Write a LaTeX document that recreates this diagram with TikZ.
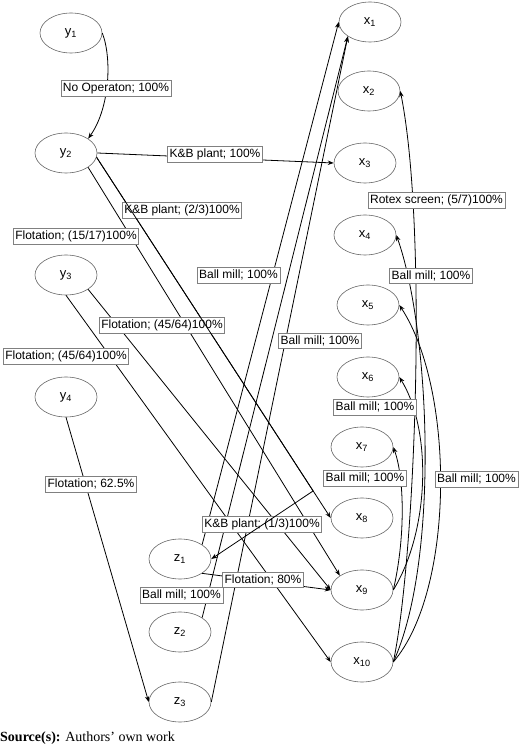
\documentclass[tikz,border=0pt]{standalone}
\usepackage{fontspec}
\setmainfont{Liberation Serif}
\setsansfont{Liberation Sans}
\usetikzlibrary{shapes.geometric,arrows.meta,calc}
\definecolor{midgray}{HTML}{666666}
\definecolor{boxgray}{HTML}{808080}
\tikzset{
  stream/.style={ellipse, draw=midgray, line width=0.6pt, minimum width=62pt, minimum height=40pt, inner sep=0pt, font=\sffamily\fontsize{13}{15}\selectfont},
  flow/.style={draw=black, line width=0.8pt, -{Stealth[length=6pt,width=4.5pt]}},
  flowlabel/.style={draw=boxgray, fill=white, line width=0.6pt, inner xsep=2pt, inner ysep=2pt, text height=9pt, text depth=2.5pt, font=\sffamily\fontsize{12}{14}\selectfont}
}
\begin{document}
\begin{tikzpicture}[x=1pt,y=1pt]
\useasboundingbox (0,0) rectangle (520,748);
% feed streams
\node[stream] (y1) at (71,715) {y\textsubscript{1}};
\node[stream] (y2) at (66,595) {y\textsubscript{2}};
\node[stream] (y3) at (66,473) {y\textsubscript{3}};
\node[stream] (y4) at (66,351) {y\textsubscript{4}};
% intermediate streams
\node[stream] (z1) at (180,189) {z\textsubscript{1}};
\node[stream] (z2) at (180,116) {z\textsubscript{2}};
\node[stream] (z3) at (180,46) {z\textsubscript{3}};
% products
\node[stream] (x1) at (370,726) {x\textsubscript{1}};
\node[stream] (x2) at (369,657) {x\textsubscript{2}};
\node[stream] (x3) at (365,585) {x\textsubscript{3}};
\node[stream] (x4) at (365,513) {x\textsubscript{4}};
\node[stream] (x5) at (368,443) {x\textsubscript{5}};
\node[stream] (x6) at (368,371) {x\textsubscript{6}};
\node[stream] (x7) at (362,301) {x\textsubscript{7}};
\node[stream] (x8) at (362,230) {x\textsubscript{8}};
\node[stream] (x9) at (362,158) {x\textsubscript{9}};
\node[stream] (x10) at (362,86) {x\textsubscript{10}};
\coordinate (kbbend) at ($(y2.-8)!0.925!(x8.west)$);
% flows
\draw[flow] (y1.east) .. controls (112,690) and (110,640) .. (y2.north east);
\draw[flow] (y2.east) -- (x3.west);
\draw[flow] (y2.-8) -- (x8.west);
\draw[flow] (y2.south east) -- (x9.north west);
\draw[flow] (y3.south east) -- (x9.west);
\draw[flow] (y3.south) -- (x10.west);
\draw[flow] (y4.south) -- (z3.west);
\draw[flow] (z1.south east) -- (x9.west);
\draw[flow] (z1.north east) -- (x1.west);
\draw[flow] (z2.north east) -- (x1.south west);
\draw[flow] (z3.east) -- (x1.south west);
\draw[flow] (x9.east) .. controls (405,208) and (405,268) .. (x7.east);
\draw[flow] (x9.east) .. controls (430,218) and (432,318) .. (x6.east);
\draw[flow] (x10.east) .. controls (415,188) and (428,518) .. (x2.east);
\draw[flow] (x10.east) .. controls (440,188) and (430,418) .. (x4.east);
\draw[flow] (x10.east) .. controls (455,158) and (455,358) .. (x5.east);
% labels
\node[flowlabel] (l1) at (116,659.5) {No Operaton; 100\%};
\node[flowlabel] (l2) at (215,593.5) {K\&B plant; 100\%};
\node[flowlabel] (l3) at (182,537.5) {K\&B plant; (2/3)100\%};
\node[flowlabel] (l4) at (262,223.5) {K\&B plant; (1/3)100\%};
\node[flowlabel] (l5) at (76,511.5) {Flotation; (15/17)100\%};
\node[flowlabel] (l6) at (162,422.5) {Flotation; (45/64)100\%};
\node[flowlabel] (l7) at (66,391.5) {Flotation; (45/64)100\%};
\node[flowlabel] (l8) at (91,263.5) {Flotation; 62.5\%};
\node[flowlabel] (l9) at (263,168) {Flotation; 80\%};
\node[flowlabel] (l10) at (238.5,472.5) {Ball mill; 100\%};
\node[flowlabel] (l11) at (181.5,152.5) {Ball mill; 100\%};
\node[flowlabel] (l12) at (320,407) {Ball mill; 100\%};
\node[flowlabel] (l13) at (436.5,547.5) {Rotex screen; (5/7)100\%};
\node[flowlabel] (l14) at (431,472) {Ball mill; 100\%};
\node[flowlabel] (l15) at (476.5,268.5) {Ball mill; 100\%};
\node[flowlabel] (l16) at (375,340.5) {Ball mill; 100\%};
\node[flowlabel] (l17) at (365,269.5) {Ball mill; 100\%};
\draw[flow] (y2.-8) -- (kbbend) -- (z1.east);
% caption
\node[anchor=west, inner sep=0pt, font=\fontsize{14}{16}\selectfont] (src) at (0,10) {\textbf{Source(s):} Authors’ own work};
\end{tikzpicture}
\end{document}
